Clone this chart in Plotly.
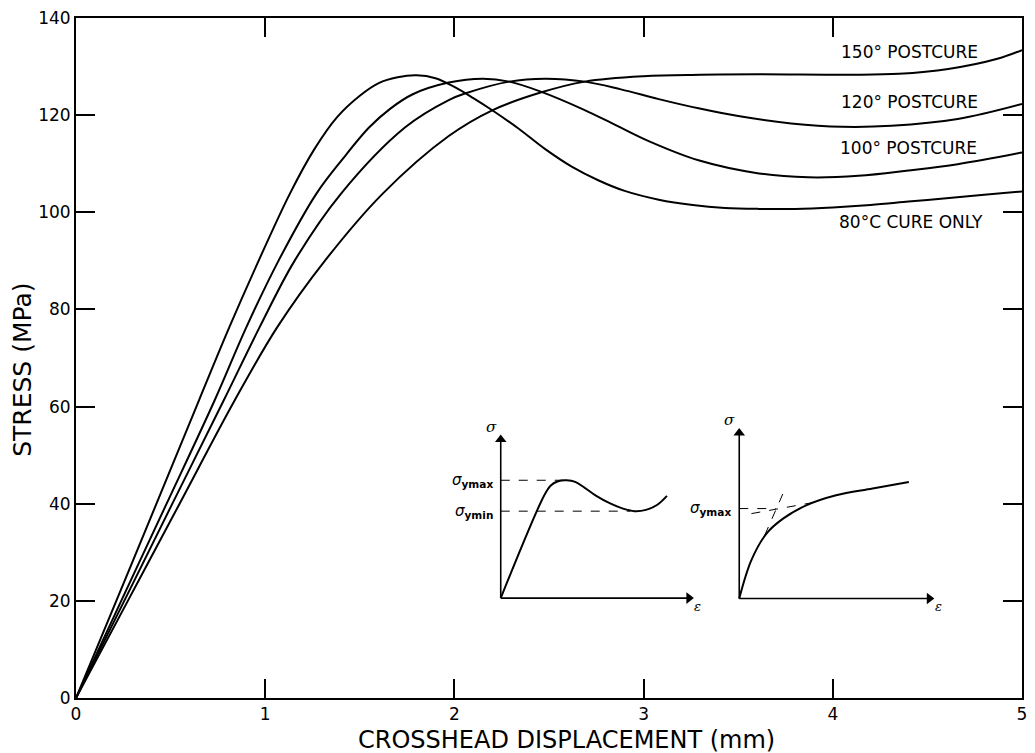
import plotly.graph_objects as go

# Stress vs crosshead displacement for four cure schedules
disp_80 = [0, 0.213, 0.421, 0.65, 0.81, 0.965, 1.13, 1.26, 1.38, 1.50, 1.60, 1.70, 1.80, 1.90, 2.00,
           2.10, 2.20, 2.34, 2.48, 2.62, 2.76, 2.90, 3.08, 3.26, 3.43, 3.61, 3.80, 4.00, 4.20, 4.40,
           4.60, 4.80, 5.0]
stress_80 = [0, 20, 39.6, 61.3, 76.3, 90, 103.8, 113.0, 119.6, 124.0, 126.6, 127.8, 128.2, 127.6, 125.8,
             123.5, 121.0, 117.2, 113.0, 109.4, 106.6, 104.4, 102.6, 101.5, 100.9, 100.7, 100.7, 101.0,
             101.5, 102.2, 102.9, 103.6, 104.3]

disp_100 = [0, 0.239, 0.474, 0.733, 0.90, 1.07, 1.27, 1.41, 1.55, 1.66, 1.78, 1.97, 2.15, 2.29, 2.46,
            2.68, 2.85, 3.03, 3.29, 3.61, 3.87, 4.135, 4.40, 4.66, 5.0]
stress_100 = [0, 20, 39.6, 61.3, 76.3, 90, 103.8, 111.0, 117.5, 121.3, 124.3, 126.7, 127.5, 126.9, 124.8,
              121.2, 118.0, 114.6, 110.7, 108.0, 107.2, 107.5, 108.6, 109.9, 112.3]

disp_120 = [0, 0.255, 0.504, 0.781, 0.97, 1.155, 1.40, 1.74, 1.97, 2.06, 2.29, 2.48, 2.69, 2.88,
            3.08, 3.29, 3.50, 3.78, 4.05, 4.31, 4.66, 5.0]
stress_120 = [0, 20, 39.6, 61.3, 76.3, 90, 103.8, 117.5, 123.1, 124.5, 126.9, 127.5, 126.9, 125.3,
              123.3, 121.4, 119.8, 118.3, 117.6, 117.8, 119.2, 122.3]

disp_150 = [0, 0.274, 0.542, 0.839, 1.063, 1.315, 1.62, 1.97, 2.20, 2.46, 2.69, 3.0, 3.3, 3.6, 4.1,
            4.35, 4.61, 4.87, 5.0]
stress_150 = [0, 20, 39.6, 61.3, 76.3, 90, 103.8, 115.7, 121.0, 124.7, 126.9, 128.0, 128.3, 128.4, 128.3,
              128.5, 129.5, 131.6, 133.4]

# Curve labels: text, x, y
curve_labels = ["150° POSTCURE", "120° POSTCURE", "100° POSTCURE", "80°C CURE ONLY"]
label_x = [4.405, 4.405, 4.40, 4.415]
label_y = [133.0, 122.7, 113.3, 98.1]

x_ticks = [0, 1, 2, 3, 4, 5]
y_ticks = [0, 20, 40, 60, 80, 100, 120, 140]

# Schematic insets (normalised strain / stress)
sketch1_eps = [0, 0.228, 0.262, 0.30, 0.345, 0.39, 0.44, 0.50, 0.57, 0.64, 0.70, 0.76, 0.82, 0.87]
sketch1_sig = [0, 0.639, 0.700, 0.726, 0.732, 0.722, 0.685, 0.635, 0.590, 0.556, 0.540, 0.548, 0.580, 0.635]

sketch2_eps = [0, 0.063, 0.141, 0.227, 0.347, 0.502, 0.691, 0.879]
sketch2_sig = [0, 0.228, 0.386, 0.475, 0.554, 0.614, 0.654, 0.693]
sketch2_elastic_eps = [0.132, 0.230]
sketch2_elastic_sig = [0.376, 0.633]
sketch2_plastic_eps = [0.063, 0.398]
sketch2_plastic_sig = [0.505, 0.574]
sketch2_yield = 0.535

FONT = "DejaVu Sans"
fig = go.Figure()


def add_line(xs, ys, xa="x", ya="y", width=2, dash="solid", shape="spline"):
    fig.add_trace(go.Scatter(x=xs, y=ys, mode="lines", xaxis=xa, yaxis=ya,
                             line=dict(color="black", width=width, dash=dash, shape=shape),
                             showlegend=False, hoverinfo="skip"))


for xs, ys in [(disp_80, stress_80), (disp_100, stress_100), (disp_120, stress_120), (disp_150, stress_150)]:
    add_line(xs, ys)

for t, lx, ly in zip(curve_labels, label_x, label_y):
    fig.add_annotation(x=lx, y=ly, text=t, showarrow=False, xref="x", yref="y",
                       font=dict(family=FONT, size=17, color="black"))

# Inset 1: yield with a load drop
s1_max = max(sketch1_sig)
s1_min = min(sketch1_sig[5:])
add_line(sketch1_eps, sketch1_sig, "x2", "y2")
add_line([0, 0.36], [s1_max, s1_max], "x2", "y2", width=1, dash="dash", shape="linear")
add_line([0, 0.68], [s1_min, s1_min], "x2", "y2", width=1, dash="dash", shape="linear")

# Inset 2: yield by tangent construction
add_line(sketch2_eps, sketch2_sig, "x3", "y3")
add_line(sketch2_elastic_eps, sketch2_elastic_sig, "x3", "y3", width=1, dash="dash", shape="linear")
add_line(sketch2_plastic_eps, sketch2_plastic_sig, "x3", "y3", width=1, dash="dash", shape="linear")
add_line([0, 0.19], [sketch2_yield, sketch2_yield], "x3", "y3", width=1, dash="dash", shape="linear")

for ax in ["2", "3"]:
    xa, ya = "x" + ax, "y" + ax
    # strain axis and stress axis, each ending in an arrow head
    add_line([0, 0.985], [0, 0], xa, ya, width=1.6, shape="linear")
    add_line([0, 0], [0, 0.985], xa, ya, width=1.6, shape="linear")
    fig.add_trace(go.Scatter(x=[0.985, 0], y=[0, 0.985], mode="markers", xaxis=xa, yaxis=ya,
                             marker=dict(symbol=["triangle-right", "triangle-up"], size=10, color="black",
                                         line=dict(width=0)),
                             cliponaxis=False, showlegend=False, hoverinfo="skip"))
    fig.add_annotation(x=1.03, y=-0.05, xref=xa, yref=ya, text="<i>ε</i>", showarrow=False,
                       font=dict(family="DejaVu Serif", size=13, color="black"))
    fig.add_annotation(x=-0.05, y=1.06, xref=xa, yref=ya, text="<i>σ</i>", showarrow=False,
                       font=dict(family="DejaVu Serif", size=15, color="black"))

sub = dict(family=FONT, size=15, color="black")
fig.add_annotation(x=-0.03, y=s1_max, xref="x2", yref="y2", xanchor="right", showarrow=False,
                   text="<i>σ</i><sub><b>ymax</b></sub>", font=sub)
fig.add_annotation(x=-0.03, y=s1_min, xref="x2", yref="y2", xanchor="right", showarrow=False,
                   text="<i>σ</i><sub><b>ymin</b></sub>", font=sub)
fig.add_annotation(x=-0.03, y=sketch2_yield, xref="x3", yref="y3", xanchor="right", showarrow=False,
                   text="<i>σ</i><sub><b>ymax</b></sub>", font=sub)

# Axis titles
fig.add_annotation(x=0.518, y=-0.0617, xref="paper", yref="paper", xanchor="center", yanchor="middle",
                   showarrow=False, text="CROSSHEAD DISPLACEMENT (mm)",
                   font=dict(family=FONT, size=24, color="black"))
fig.add_annotation(x=-0.0568, y=0.483, xref="paper", yref="paper", xanchor="center", yanchor="middle",
                   showarrow=False, textangle=-90, text="STRESS (MPa)",
                   font=dict(family=FONT, size=25, color="black"))

axis_common = dict(showgrid=False, zeroline=False, showline=True, linecolor="black", linewidth=2,
                   mirror="ticks", ticks="inside", ticklen=19, tickwidth=1.5, tickcolor="black",
                   tickfont=dict(family=FONT, size=17, color="black"))

inset_x_range = [-0.35, 1.1]
inset_y_range = [-0.1, 1.15]

fig.update_layout(
    width=1035, height=753,
    margin=dict(l=76, r=8, t=17, b=55),
    paper_bgcolor="white", plot_bgcolor="rgba(0,0,0,0)",
    showlegend=False,
    xaxis=dict(range=[0, 5], tickvals=x_ticks, ticktext=[str(v) for v in x_ticks], **axis_common),
    yaxis=dict(range=[0, 140], tickvals=y_ticks, ticktext=[str(v) for v in y_ticks], **axis_common),
    xaxis2=dict(domain=[0.3783, 0.6711], range=inset_x_range, visible=False, anchor="y2"),
    yaxis2=dict(domain=[0.1232, 0.4192], range=inset_y_range, visible=False, anchor="x2"),
    xaxis3=dict(domain=[0.6297, 0.9255], range=inset_x_range, visible=False, anchor="y3"),
    yaxis3=dict(domain=[0.1217, 0.4305], range=inset_y_range, visible=False, anchor="x3"),
)

fig.write_html("out.html")
